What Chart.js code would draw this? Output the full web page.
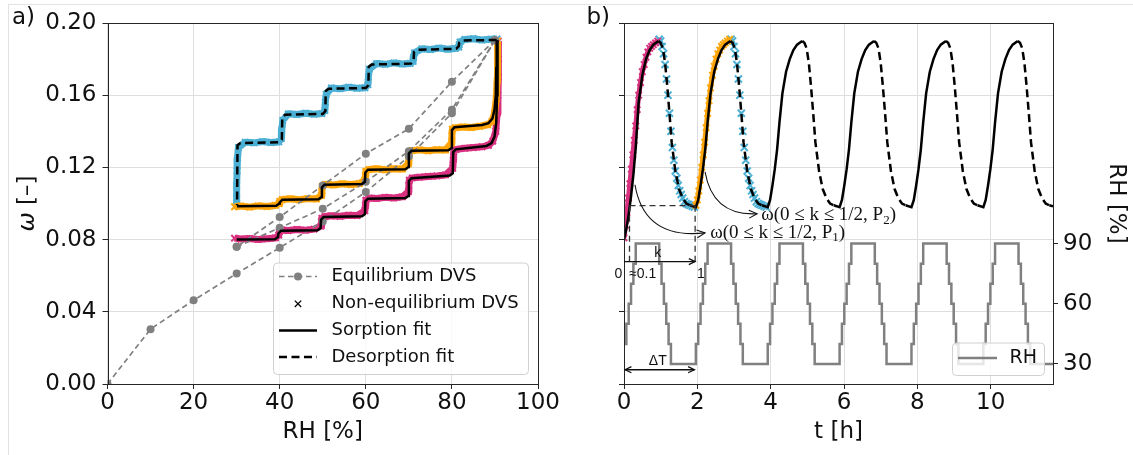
<!DOCTYPE html>
<html>
<head>
<meta charset="utf-8">
<script src="https://cdn.jsdelivr.net/npm/chart.js@4.4.1/dist/chart.umd.min.js"></script>
<style>
  html, body { margin: 0; padding: 0; background: #fff; }
  #fig { position: relative; width: 1133px; height: 455px; overflow: hidden; }
  #frame { position: absolute; left: 8px; top: 4px; width: 1200px; height: 500px;
           border-left: 1px solid #e2e2e2; border-top: 1px solid #e2e2e2; }
  canvas { position: absolute; top: 0; }
  #isoChart { left: 0; }
  #timeChart { left: 560px; }
</style>
</head>
<body>
<div id="fig">
  <div id="frame"></div>
  <canvas id="isoChart" width="560" height="455"></canvas>
  <canvas id="timeChart" width="573" height="455"></canvas>
</div>
<script>
const FONT = 'DejaVu Sans';
const GRAY = '#808080';
const PINK = '#d8317f';
const ORANGE = '#ffa50a';
const BLUE = '#4cb0d4';

// ---- a) sorption isotherm, omega vs RH ----
const rhTicks = [0, 20, 40, 60, 80, 100];
const omegaTicks = [0, 0.04, 0.08, 0.12, 0.16, 0.2];

// equilibrium DVS
const eqSorp1RH = [0, 10, 20, 30, 40, 50, 60, 70, 80, 90];
const eqSorp1W = [0, 0.0304, 0.0464, 0.0612, 0.0755, 0.0900, 0.1064, 0.1260, 0.1500, 0.1905];
const eqDesorpRH = [90, 80, 70, 60, 50, 40, 30];
const eqDesorpW = [0.1905, 0.1675, 0.1414, 0.1276, 0.1100, 0.0925, 0.0760];
const eqSorp2RH = [30, 40, 50, 60, 70, 80, 90];
const eqSorp2W = [0.0760, 0.0866, 0.0971, 0.1120, 0.1290, 0.1520, 0.1905];

// non-equilibrium DVS (first sorption, second sorption, desorption)
const neqPinkRH = [29.5, 31, 33, 35, 37, 39, 39.8, 39.9, 40.5, 42, 44, 46, 48, 49.6, 49.7, 49.8, 50.5, 52, 54, 56, 58, 59.8, 59.9, 60.0, 60.8, 62.5, 64.5, 66.5, 68.5, 69.9, 70.0, 70.1, 70.8, 72.5, 74.5, 76.5, 78.5, 80.2, 80.3, 80.4, 81, 83, 85, 87, 88.5, 89.5, 90.2, 90.5, 90.7, 90.8, 90.8, 90.8];
const neqPinkW = [0.0808, 0.0803, 0.0806, 0.0801, 0.0805, 0.0809, 0.0825, 0.0843, 0.0853, 0.0850, 0.0856, 0.0852, 0.0858, 0.0875, 0.0900, 0.0918, 0.0928, 0.0932, 0.0929, 0.0935, 0.0933, 0.0960, 0.0990, 0.1018, 0.1030, 0.1028, 0.1034, 0.1031, 0.1037, 0.1065, 0.1100, 0.1130, 0.1142, 0.1146, 0.1150, 0.1153, 0.1158, 0.1195, 0.1240, 0.1285, 0.1300, 0.1306, 0.1310, 0.1314, 0.1322, 0.1345, 0.1400, 0.1500, 0.1600, 0.1700, 0.1800, 0.1900];
const neqOrangeRH = [29.5, 31, 33, 35, 37, 39, 39.9, 40.0, 40.6, 42.5, 44.5, 46.5, 48.5, 49.7, 49.8, 49.9, 50.6, 52.5, 54.5, 56.5, 58.5, 59.8, 59.9, 60.0, 60.7, 62.5, 64.5, 66.5, 68.5, 69.9, 70.0, 70.1, 70.8, 72.5, 74.5, 76.5, 78.5, 79.9, 80.0, 80.1, 80.8, 82.5, 84.5, 86.5, 88.3, 89.3, 89.9, 90.3, 90.5, 90.6, 90.6];
const neqOrangeW = [0.0982, 0.0986, 0.0980, 0.0987, 0.0983, 0.0989, 0.1000, 0.1012, 0.1022, 0.1026, 0.1021, 0.1027, 0.1025, 0.1045, 0.1070, 0.1095, 0.1106, 0.1103, 0.1109, 0.1105, 0.1110, 0.1130, 0.1155, 0.1178, 0.1188, 0.1192, 0.1187, 0.1193, 0.1191, 0.1220, 0.1255, 0.1285, 0.1293, 0.1297, 0.1292, 0.1298, 0.1296, 0.1335, 0.1375, 0.1412, 0.1420, 0.1424, 0.1421, 0.1428, 0.1436, 0.1455, 0.1500, 0.1580, 0.1680, 0.1790, 0.1900];
const neqBlueRH = [90.5, 89, 87, 85, 83, 81.9, 81.7, 81.6, 80.8, 79, 77, 75, 73, 71.3, 71.1, 71.0, 70.3, 68.5, 66.5, 64.5, 62.5, 60.8, 60.6, 60.5, 59.8, 58, 56, 54, 52, 50.8, 50.6, 50.5, 49.8, 48, 46, 44, 42, 40.7, 40.5, 40.4, 39.8, 38, 36, 34, 32, 30.4, 30.2, 30.1, 30.0, 30.0, 30.0];
const neqBlueW = [0.1912, 0.1910, 0.1906, 0.1913, 0.1909, 0.1895, 0.1880, 0.1866, 0.1859, 0.1855, 0.1861, 0.1853, 0.1857, 0.1835, 0.1810, 0.1787, 0.1776, 0.1773, 0.1779, 0.1771, 0.1775, 0.1745, 0.1700, 0.1658, 0.1641, 0.1638, 0.1644, 0.1636, 0.1640, 0.1605, 0.1560, 0.1515, 0.1498, 0.1495, 0.1500, 0.1493, 0.1497, 0.1460, 0.1410, 0.1360, 0.1341, 0.1338, 0.1343, 0.1336, 0.1340, 0.1310, 0.1250, 0.1180, 0.1100, 0.1030, 0.0990];

// model fits
const sorp1FitRH = [30.0, 38.9, 39.6, 39.7, 40.3, 48.8, 49.5, 49.6, 50.2, 59.1, 59.8, 59.9, 60.5, 69.2, 69.9, 70.0, 70.6, 79.5, 80.2, 80.3, 80.9, 88.0, 89.2, 89.9, 90.3, 90.5, 90.6, 90.6];
const sorp1FitW = [0.0800, 0.0802, 0.0814, 0.0834, 0.0849, 0.0852, 0.0864, 0.0910, 0.0925, 0.0929, 0.0941, 0.1012, 0.1027, 0.1030, 0.1042, 0.1125, 0.1140, 0.1155, 0.1167, 0.1285, 0.1300, 0.1318, 0.1335, 0.1370, 0.1450, 0.1600, 0.1750, 0.1905];
const sorp2FitRH = [30.1, 39.2, 39.9, 40.0, 40.6, 49.0, 49.7, 49.8, 50.4, 59.1, 59.8, 59.9, 60.5, 69.2, 69.9, 70.0, 70.6, 79.2, 79.9, 80.0, 80.6, 87.0, 88.5, 89.4, 89.9, 90.2, 90.3, 90.4];
const sorp2FitW = [0.0985, 0.0988, 0.1000, 0.1006, 0.1021, 0.1024, 0.1036, 0.1089, 0.1104, 0.1108, 0.1120, 0.1172, 0.1187, 0.1190, 0.1202, 0.1277, 0.1292, 0.1295, 0.1307, 0.1407, 0.1422, 0.1435, 0.1445, 0.1470, 0.1520, 0.1600, 0.1750, 0.1905];
const desorpFitRH = [90.4, 82.4, 81.7, 81.6, 81.0, 71.9, 71.2, 71.1, 70.5, 61.4, 60.7, 60.6, 60.0, 51.4, 50.7, 50.6, 50.0, 41.3, 40.6, 40.5, 39.9, 30.9, 30.2, 30.1, 30.1];
const desorpFitW = [0.1906, 0.1903, 0.1891, 0.1872, 0.1857, 0.1852, 0.1840, 0.1790, 0.1775, 0.1770, 0.1758, 0.1655, 0.1640, 0.1636, 0.1624, 0.1511, 0.1496, 0.1492, 0.1480, 0.1354, 0.1339, 0.1335, 0.1323, 0.1005, 0.0990];

// ---- b) omega and RH over time ----
const timeTicks = [0, 2, 4, 6, 8, 10];
const rhRightTicks = [30, 60, 90];

const sorpFitT = [
  0, 0.064, 0.128, 0.192, 0.256, 0.32, 0.40, 0.50, 0.60, 0.70, 0.80, 0.94, null,
  1.80, 1.96, 2.024, 2.088, 2.152, 2.216, 2.28, 2.36, 2.46, 2.56, 2.66, 2.76, 2.90, null,
  3.76, 3.92, 3.984, 4.048, 4.112, 4.176, 4.24, 4.32, 4.42, 4.52, 4.62, 4.72, 4.86, null,
  5.72, 5.88, 5.944, 6.008, 6.072, 6.136, 6.20, 6.28, 6.38, 6.48, 6.58, 6.68, 6.82, null,
  7.68, 7.84, 7.904, 7.968, 8.032, 8.096, 8.16, 8.24, 8.34, 8.44, 8.54, 8.64, 8.78, null,
  9.64, 9.80, 9.864, 9.928, 9.992, 10.056, 10.12, 10.20, 10.30, 10.40, 10.50, 10.60, 10.74, null,
  11.60, 11.70
];
const sorpFitW = [
  0.080, 0.086, 0.094, 0.104, 0.116, 0.131, 0.156, 0.171, 0.180, 0.185, 0.188, 0.190, null,
  0.099, 0.098, 0.102, 0.110, 0.119, 0.130, 0.145, 0.161, 0.173, 0.180, 0.185, 0.188, 0.190, null,
  0.099, 0.098, 0.102, 0.110, 0.119, 0.130, 0.145, 0.161, 0.173, 0.180, 0.185, 0.188, 0.190, null,
  0.099, 0.098, 0.102, 0.110, 0.119, 0.130, 0.145, 0.161, 0.173, 0.180, 0.185, 0.188, 0.190, null,
  0.099, 0.098, 0.102, 0.110, 0.119, 0.130, 0.145, 0.161, 0.173, 0.180, 0.185, 0.188, 0.190, null,
  0.099, 0.098, 0.102, 0.110, 0.119, 0.130, 0.145, 0.161, 0.173, 0.180, 0.185, 0.188, 0.190, null,
  0.099, 0.0985
];
const desorpFitT = [
  0.94, 1.00, 1.06, 1.12, 1.18, 1.24, 1.30, 1.40, 1.50, 1.60, 1.70, 1.80, null,
  2.90, 2.96, 3.02, 3.08, 3.14, 3.20, 3.26, 3.36, 3.46, 3.56, 3.66, 3.76, null,
  4.86, 4.92, 4.98, 5.04, 5.10, 5.16, 5.22, 5.32, 5.42, 5.52, 5.62, 5.72, null,
  6.82, 6.88, 6.94, 7.00, 7.06, 7.12, 7.18, 7.28, 7.38, 7.48, 7.58, 7.68, null,
  8.78, 8.84, 8.90, 8.96, 9.02, 9.08, 9.14, 9.24, 9.34, 9.44, 9.54, 9.64, null,
  10.74, 10.80, 10.86, 10.92, 10.98, 11.04, 11.10, 11.20, 11.30, 11.40, 11.50, 11.60
];
const desorpFitTW = [
  0.190, 0.189, 0.186, 0.178, 0.165, 0.150, 0.134, 0.118, 0.108, 0.103, 0.100, 0.099, null,
  0.190, 0.189, 0.186, 0.178, 0.165, 0.150, 0.134, 0.118, 0.108, 0.103, 0.100, 0.099, null,
  0.190, 0.189, 0.186, 0.178, 0.165, 0.150, 0.134, 0.118, 0.108, 0.103, 0.100, 0.099, null,
  0.190, 0.189, 0.186, 0.178, 0.165, 0.150, 0.134, 0.118, 0.108, 0.103, 0.100, 0.099, null,
  0.190, 0.189, 0.186, 0.178, 0.165, 0.150, 0.134, 0.118, 0.108, 0.103, 0.100, 0.099, null,
  0.190, 0.189, 0.186, 0.178, 0.165, 0.150, 0.134, 0.118, 0.108, 0.103, 0.100, 0.099
];

const pinkT = [0.00, 0.04, 0.08, 0.12, 0.16, 0.20, 0.24, 0.28, 0.32, 0.36, 0.40, 0.45, 0.50, 0.55, 0.60, 0.65, 0.70, 0.75, 0.80, 0.86, 0.92];
const pinkW = [0.081, 0.088, 0.095, 0.103, 0.111, 0.119, 0.127, 0.135, 0.143, 0.152, 0.160, 0.167, 0.173, 0.177, 0.181, 0.184, 0.186, 0.187, 0.188, 0.189, 0.190];
const orangeT = [1.96, 2.00, 2.04, 2.08, 2.12, 2.16, 2.20, 2.24, 2.28, 2.32, 2.36, 2.41, 2.46, 2.51, 2.56, 2.61, 2.66, 2.71, 2.76, 2.82, 2.88];
const orangeW = [0.099, 0.102, 0.107, 0.113, 0.120, 0.127, 0.134, 0.142, 0.150, 0.157, 0.164, 0.171, 0.176, 0.180, 0.183, 0.185, 0.187, 0.188, 0.189, 0.190, 0.191];
const blue1T = [0.96, 1.00, 1.04, 1.08, 1.12, 1.16, 1.20, 1.24, 1.28, 1.32, 1.36, 1.40, 1.44, 1.48, 1.52, 1.56, 1.60, 1.65, 1.70, 1.75, 1.80, 1.86, 1.92];
const blue1W = [0.191, 0.190, 0.187, 0.183, 0.177, 0.169, 0.160, 0.150, 0.140, 0.131, 0.124, 0.118, 0.114, 0.110, 0.107, 0.105, 0.103, 0.101, 0.100, 0.0995, 0.099, 0.0985, 0.098];
const blue2T = [2.92, 2.96, 3.00, 3.04, 3.08, 3.12, 3.16, 3.20, 3.24, 3.28, 3.32, 3.36, 3.40, 3.44, 3.48, 3.52, 3.56, 3.61, 3.66, 3.71, 3.76, 3.82, 3.88];
const blue2W = [0.191, 0.190, 0.187, 0.183, 0.177, 0.169, 0.160, 0.150, 0.140, 0.131, 0.124, 0.118, 0.114, 0.110, 0.107, 0.105, 0.103, 0.101, 0.100, 0.0995, 0.099, 0.0985, 0.098];

// RH set points, each value holds from its time on
const rhTime = [
  0, 0.064, 0.128, 0.192, 0.256, 0.32, 0.96, 1.024, 1.088, 1.152, 1.216, 1.28,
  1.96, 2.024, 2.088, 2.152, 2.216, 2.28, 2.92, 2.984, 3.048, 3.112, 3.176, 3.24,
  3.92, 3.984, 4.048, 4.112, 4.176, 4.24, 4.88, 4.944, 5.008, 5.072, 5.136, 5.20,
  5.88, 5.944, 6.008, 6.072, 6.136, 6.20, 6.84, 6.904, 6.968, 7.032, 7.096, 7.16,
  7.84, 7.904, 7.968, 8.032, 8.096, 8.16, 8.80, 8.864, 8.928, 8.992, 9.056, 9.12,
  9.80, 9.864, 9.928, 9.992, 10.056, 10.12, 10.76, 10.824, 10.888, 10.952, 11.016, 11.08,
  11.70
];
const rhLevel = [
  40, 50, 60, 70, 80, 90, 80, 70, 60, 50, 40, 30,
  40, 50, 60, 70, 80, 90, 80, 70, 60, 50, 40, 30,
  40, 50, 60, 70, 80, 90, 80, 70, 60, 50, 40, 30,
  40, 50, 60, 70, 80, 90, 80, 70, 60, 50, 40, 30,
  40, 50, 60, 70, 80, 90, 80, 70, 60, 50, 40, 30,
  40, 50, 60, 70, 80, 90, 80, 70, 60, 50, 40, 30,
  30
];

const pts = (xs, ys) => xs.map((x, i) => ({ x: x, y: ys[i] }));

Chart.defaults.font.family = FONT;
Chart.defaults.color = '#111';

function tickFont() { return { family: FONT, size: 23 }; }

function fitLine(data, dashed) {
  return { data: data, showLine: true, borderColor: '#000', borderWidth: 2.5, pointRadius: 0,
           borderDash: dashed ? [8, 4.5] : [], spanGaps: false };
}
function eqLine(data) {
  return { data: data, showLine: true, borderColor: GRAY, borderWidth: 1.7, borderDash: [5.5, 3.5],
           pointRadius: 4, pointBackgroundColor: GRAY, pointBorderWidth: 0 };
}
function neqBand(data, color, width, r) {
  return { data: data, showLine: width > 0, borderColor: color, borderWidth: width,
           pointStyle: 'crossRot', pointRadius: r, pointBorderColor: color, pointBorderWidth: 2,
           borderJoinStyle: 'round' };
}

function drawFrame(ctx, a) {
  ctx.save();
  ctx.strokeStyle = '#262626';
  ctx.lineWidth = 1;
  ctx.strokeRect(Math.round(a.left) + 0.5, Math.round(a.top) + 0.5,
                 Math.round(a.right) - Math.round(a.left), Math.round(a.bottom) - Math.round(a.top));
  ctx.restore();
}

function legendBox(ctx, x, y, w, h) {
  ctx.save();
  ctx.beginPath();
  ctx.roundRect(x + 0.5, y + 0.5, w, h, 4);
  ctx.fillStyle = 'rgba(255,255,255,0.8)';
  ctx.fill();
  ctx.strokeStyle = '#d0d0d0';
  ctx.lineWidth = 1;
  ctx.stroke();
  ctx.restore();
}

// panel a decorations: frame, labels, legend
const isoDecor = {
  id: 'isoDecor',
  afterDraw(chart) {
    const { ctx, chartArea: a } = chart;
    drawFrame(ctx, a);
    ctx.save();
    ctx.fillStyle = '#111';
    ctx.font = '23px ' + FONT;
    ctx.textBaseline = 'alphabetic';
    ctx.textAlign = 'left';
    ctx.fillText('a)', 12, 24);

    ctx.textAlign = 'center';
    ctx.textBaseline = 'middle';
    ctx.fillText('RH [%]', (a.left + a.right) / 2, a.bottom + 48);

    // y title with italic omega
    ctx.translate(28.5, (a.top + a.bottom) / 2);
    ctx.rotate(-Math.PI / 2);
    ctx.font = 'italic 23px ' + FONT;
    const w1 = ctx.measureText('ω').width;
    ctx.font = '23px ' + FONT;
    const w2 = ctx.measureText(' [–]').width;
    ctx.textAlign = 'left';
    ctx.font = 'italic 23px ' + FONT;
    ctx.fillText('ω', -(w1 + w2) / 2, 0);
    ctx.font = '23px ' + FONT;
    ctx.fillText(' [–]', -(w1 + w2) / 2 + w1, 0);
    ctx.restore();

    // legend
    const bx = a.right - 265, by = a.bottom - 121.5, bw = 255, bh = 111.5;
    legendBox(ctx, bx, by, bw, bh);
    ctx.save();
    const hx0 = bx + 6, hx1 = bx + 44, tx = bx + 58.5;
    const rows = [by + 14, by + 41.3, by + 68, by + 94.6];
    ctx.lineCap = 'butt';
    // equilibrium
    ctx.strokeStyle = GRAY; ctx.lineWidth = 1.7; ctx.setLineDash([5.5, 3.5]);
    ctx.beginPath(); ctx.moveTo(hx0, rows[0]); ctx.lineTo(hx1, rows[0]); ctx.stroke();
    ctx.setLineDash([]);
    ctx.fillStyle = GRAY;
    ctx.beginPath(); ctx.arc((hx0 + hx1) / 2, rows[0], 4, 0, Math.PI * 2); ctx.fill();
    // non-equilibrium marker
    const cx = (hx0 + hx1) / 2, cy = rows[1];
    ctx.strokeStyle = '#000'; ctx.lineWidth = 1.3;
    ctx.beginPath();
    ctx.moveTo(cx - 3.2, cy - 3.2); ctx.lineTo(cx + 3.2, cy + 3.2);
    ctx.moveTo(cx - 3.2, cy + 3.2); ctx.lineTo(cx + 3.2, cy - 3.2);
    ctx.stroke();
    // fits
    ctx.lineWidth = 2.5;
    ctx.beginPath(); ctx.moveTo(hx0, rows[2]); ctx.lineTo(hx1, rows[2]); ctx.stroke();
    ctx.setLineDash([8, 4.5]);
    ctx.beginPath(); ctx.moveTo(hx0, rows[3]); ctx.lineTo(hx1, rows[3]); ctx.stroke();
    ctx.setLineDash([]);
    ctx.fillStyle = '#111';
    ctx.font = '18px ' + FONT;
    ctx.textBaseline = 'middle';
    ctx.textAlign = 'left';
    ['Equilibrium DVS', 'Non-equilibrium DVS', 'Sorption fit', 'Desorption fit']
      .forEach((s, i) => ctx.fillText(s, tx, rows[i]));
    ctx.restore();
  }
};

new Chart(document.getElementById('isoChart').getContext('2d'), {
  type: 'scatter',
  data: {
    datasets: [
      fitLine(pts(sorp1FitRH, sorp1FitW), false),
      fitLine(pts(sorp2FitRH, sorp2FitW), false),
      fitLine(pts(desorpFitRH, desorpFitW), true),
      eqLine(pts(eqSorp1RH, eqSorp1W)),
      eqLine(pts(eqDesorpRH, eqDesorpW)),
      eqLine(pts(eqSorp2RH, eqSorp2W)),
      neqBand(pts(neqOrangeRH, neqOrangeW), ORANGE, 7, 4.5),
      neqBand(pts(neqPinkRH, neqPinkW), PINK, 7, 4.5),
      neqBand(pts(neqBlueRH, neqBlueW), BLUE, 7, 4.5)
    ]
  },
  options: {
    responsive: false,
    animation: false,
    layout: { padding: { left: 0, top: 23, right: 22, bottom: 0 } },
    plugins: { legend: { display: false }, tooltip: { enabled: false } },
    scales: {
      x: {
        type: 'linear', min: 0, max: 100,
        afterBuildTicks: s => { s.ticks = rhTicks.map(v => ({ value: v })); },
        afterFit: s => { s.height = 71; },
        ticks: { font: tickFont(), padding: 0, maxRotation: 0 },
        grid: { color: '#dedede', tickColor: '#262626', tickLength: 5 },
        border: { display: false }
      },
      y: {
        type: 'linear', min: 0, max: 0.2,
        afterBuildTicks: s => { s.ticks = omegaTicks.map(v => ({ value: v })); },
        afterFit: s => { s.width = 107.5; },
        ticks: { font: tickFont(), padding: 6, callback: v => v.toFixed(2) },
        grid: { color: '#dedede', tickColor: '#262626', tickLength: 5 },
        border: { display: false }
      }
    }
  },
  plugins: [isoDecor]
});

// open arrow head at (x, y) pointing along angle ang
function arrowHead(ctx, x, y, ang, len) {
  ctx.beginPath();
  ctx.moveTo(x - len * Math.cos(ang - 0.45), y - len * Math.sin(ang - 0.45));
  ctx.lineTo(x, y);
  ctx.lineTo(x - len * Math.cos(ang + 0.45), y - len * Math.sin(ang + 0.45));
  ctx.stroke();
}

function omegaLabel(ctx, x, y, sub) {
  const big = '19px "Liberation Serif", "DejaVu Serif", serif';
  const small = '13px "Liberation Serif", "DejaVu Serif", serif';
  const head = 'ω(0 ≤ k ≤ 1/2, P';
  ctx.font = big;
  ctx.fillText(head, x, y);
  let w = ctx.measureText(head).width;
  ctx.font = small;
  ctx.fillText(sub, x + w, y + 5);
  w += ctx.measureText(sub).width;
  ctx.font = big;
  ctx.fillText(')', x + w, y);
}

// panel b decorations: frame, annotations, labels, legend
const timeDecor = {
  id: 'timeDecor',
  afterDraw(chart) {
    const { ctx, chartArea: a } = chart;
    const sx = chart.scales.x, sy = chart.scales.y;
    const X = t => sx.getPixelForValue(t);
    const Y = w => sy.getPixelForValue(w);
    drawFrame(ctx, a);
    ctx.save();

    // dashed guides for k
    ctx.strokeStyle = '#333';
    ctx.lineWidth = 1.3;
    ctx.setLineDash([6, 4]);
    ctx.beginPath();
    ctx.moveTo(X(0.15), Y(0.0988)); ctx.lineTo(X(1.94), Y(0.0988));
    ctx.moveTo(X(0.15), Y(0.0988)); ctx.lineTo(X(0.15), Y(0.0660));
    ctx.moveTo(X(1.94), Y(0.0988)); ctx.lineTo(X(1.94), Y(0.0660));
    ctx.stroke();
    ctx.setLineDash([]);

    // k arrow
    ctx.strokeStyle = '#111';
    ctx.lineWidth = 1.3;
    const ky = Y(0.0678);
    ctx.beginPath(); ctx.moveTo(X(0), ky); ctx.lineTo(X(1.94), ky); ctx.stroke();
    arrowHead(ctx, X(1.94), ky, 0, 7);

    // delta T arrow
    const dy = Y(0.0079);
    ctx.beginPath(); ctx.moveTo(X(0.03), dy); ctx.lineTo(X(1.92), dy); ctx.stroke();
    arrowHead(ctx, X(1.92), dy, 0, 7);
    arrowHead(ctx, X(0.03), dy, Math.PI, 7);

    // curved arrows to the labels
    const curve = (s, c, e) => {
      ctx.beginPath();
      ctx.moveTo(X(s[0]), Y(s[1]));
      ctx.quadraticCurveTo(X(c[0]), Y(c[1]), X(e[0]), Y(e[1]));
      ctx.stroke();
      const ang = Math.atan2(Y(e[1]) - Y(c[1]), X(e[0]) - X(c[0]));
      arrowHead(ctx, X(e[0]), Y(e[1]), ang, 9);
    };
    ctx.lineWidth = 1.1;
    curve([0.30, 0.1104], [0.55, 0.0800], [2.21, 0.0837]);
    curve([2.21, 0.1176], [2.42, 0.0930], [3.63, 0.0943]);

    ctx.fillStyle = '#111';
    ctx.textBaseline = 'middle';
    ctx.textAlign = 'left';
    omegaLabel(ctx, X(2.35), Y(0.0837), '1');
    omegaLabel(ctx, X(3.74), Y(0.0935), '2');

    ctx.font = '14px "Liberation Sans", sans-serif';
    ctx.textAlign = 'center';
    ctx.fillText('k', X(0.92), Y(0.0725));
    ctx.fillText('ΔT', X(0.92), Y(0.0125));
    ctx.fillText('0', X(-0.15), Y(0.0610));
    ctx.fillText('1', X(2.1), Y(0.0610));
    ctx.textAlign = 'left';
    ctx.fillText('≈0.1', X(0.14), Y(0.0610));

    // panel letter and axis titles
    ctx.font = '23px ' + FONT;
    ctx.textBaseline = 'alphabetic';
    ctx.fillText('b)', 26.5, 24);
    ctx.textAlign = 'center';
    ctx.textBaseline = 'middle';
    ctx.fillText('t [h]', (a.left + a.right) / 2, a.bottom + 48);
    ctx.translate(555.5, (a.top + a.bottom) / 2);
    ctx.rotate(Math.PI / 2);
    ctx.fillText('RH [%]', 0, 0);
    ctx.restore();

    // legend
    const bx = a.right - 101, by = a.bottom - 41.5, bw = 92, bh = 32.5;
    legendBox(ctx, bx, by, bw, bh);
    ctx.save();
    ctx.strokeStyle = GRAY; ctx.lineWidth = 2.5;
    ctx.beginPath(); ctx.moveTo(bx + 6, by + 15.5); ctx.lineTo(bx + 45, by + 15.5); ctx.stroke();
    ctx.fillStyle = '#111';
    ctx.font = '19px ' + FONT;
    ctx.textBaseline = 'middle';
    ctx.fillText('RH', bx + 57.5, by + 15.5);
    ctx.restore();
  }
};

new Chart(document.getElementById('timeChart').getContext('2d'), {
  type: 'scatter',
  data: {
    datasets: [
      fitLine(pts(sorpFitT, sorpFitW), false),
      fitLine(pts(desorpFitT, desorpFitTW), true),
      neqBand(pts(pinkT, pinkW), PINK, 5, 4.5),
      neqBand(pts(orangeT, orangeW), ORANGE, 5, 4.5),
      neqBand(pts(blue1T, blue1W), BLUE, 0, 5),
      neqBand(pts(blue2T, blue2W), BLUE, 0, 5),
      { data: pts(rhTime, rhLevel), yAxisID: 'yR', showLine: true, stepped: true,
        borderColor: GRAY, borderWidth: 2.5, pointRadius: 0 }
    ]
  },
  options: {
    responsive: false,
    animation: false,
    layout: { padding: { left: 0, top: 23, right: 0, bottom: 0 } },
    plugins: { legend: { display: false }, tooltip: { enabled: false } },
    scales: {
      x: {
        type: 'linear', min: 0, max: 11.7,
        afterBuildTicks: s => { s.ticks = timeTicks.map(v => ({ value: v })); },
        afterFit: s => { s.height = 71; },
        ticks: { font: tickFont(), padding: 0, maxRotation: 0 },
        grid: { color: '#dedede', tickColor: '#262626', tickLength: 5 },
        border: { display: false }
      },
      y: {
        type: 'linear', position: 'left', min: 0, max: 0.2,
        afterBuildTicks: s => { s.ticks = omegaTicks.map(v => ({ value: v })); },
        afterFit: s => { s.width = 64; },
        ticks: { display: false },
        grid: { color: '#dedede', tickColor: '#262626', tickLength: 5 },
        border: { display: false }
      },
      yR: {
        type: 'linear', position: 'right', min: 20, max: 200,
        afterBuildTicks: s => { s.ticks = rhRightTicks.map(v => ({ value: v })); },
        afterFit: s => { s.width = 80; },
        ticks: { font: tickFont(), padding: 5 },
        grid: { drawOnChartArea: false, tickColor: '#262626', tickLength: 5 },
        border: { display: false }
      }
    }
  },
  plugins: [timeDecor]
});
</script>
</body>
</html>
